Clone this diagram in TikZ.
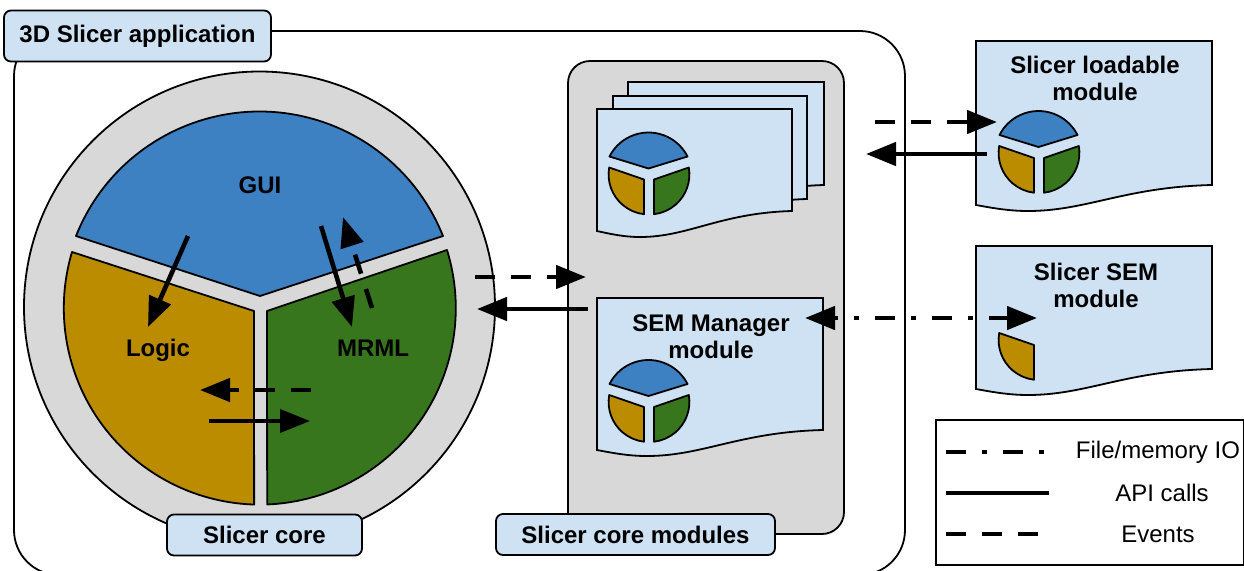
\documentclass[tikz,border=0pt]{standalone}
\usepackage{fontspec}
\setmainfont{Liberation Sans}
\usetikzlibrary{arrows.meta}
\definecolor{guiblue}{HTML}{3D81C3}
\definecolor{logicgold}{HTML}{BB8B00}
\definecolor{mrmlgreen}{HTML}{38761D}
\definecolor{coregray}{HTML}{D8D8D8}
\definecolor{pageblue}{HTML}{CFE2F3}
\begin{document}
\begin{tikzpicture}
	[x=1pt, y=1pt, scale=.5, yscale=-1,
	every node/.style = {font=\fontsize{12}{13.5}\selectfont, align=center, inner sep=0pt},
	every pic/.style = {scale=.5, yscale=-1},
	outline/.style = {draw=black, line width=.9pt},
	sector/.style = {outline, line join=round},
	tag/.style = {outline, fill=pageblue, rounded corners=3.5pt},
	boldtext/.style = {font=\fontsize{12}{13.5}\selectfont\bfseries},
	apicall/.style = {line width=2.3pt, -{Triangle[length=15pt,width=11.5pt]}},
	eventcall/.style = {apicall, dash pattern=on 10pt off 8pt},
	iocall/.style = {line width=2.3pt, dash pattern=on 10pt off 8pt on 2.5pt off 8pt},
	minilogic/.pic = {
		\draw[sector, fill=logicgold] (-39.3,-7) arc[start angle=190, end angle=96.5, radius=40] -- (-4.5,5) -- cycle;
	},
	minitriad/.pic = {
		\draw[sector, fill=guiblue] (-39,-18) arc[start angle=206.8, end angle=333.2, radius=43.7] -- (0,-6) -- cycle;
		\pic at (0,0) {minilogic};
		\draw[sector, fill=mrmlgreen] (40.3,-7) arc[start angle=-10, end angle=83.5, radius=40] -- (5.5,5) -- cycle;
	}]
	\clip (0,0) rectangle (1244,570);
	\fill[white] (0,0) rectangle (1244,570);

	\draw[outline, fill=white, rounded corners=22.5pt] (14,31) rectangle (905,575);
	\draw[outline, fill=coregray] (259.5,307) circle[radius=235.5];
	\draw[sector, fill=guiblue] (76,236) arc[start angle=201.7, end angle=338.3, radius=197.5] -- (260,296) -- cycle;
	\draw[sector, fill=logicgold] (72,252) arc[start angle=196.6, end angle=91.8, radius=196.5] -- (254,311) -- cycle;
	\draw[sector, fill=mrmlgreen] (447,250) arc[start angle=-17.2, end angle=87.7, radius=196.5] -- (267,311) -- cycle;

	\draw[outline, fill=coregray, rounded corners=11pt] (568,61) rectangle (844,534);
	\foreach \px/\ptop/\pw/\pr in {628/82/196/185, 613/96/194/199, 597/109/195/211, 597/298/226/430, 976/41/236/185, 976/246/236/369}
		\draw[outline, fill=pageblue, line join=miter] (\px,\ptop) -- ({\px+\pw},\ptop) -- ({\px+\pw},\pr)
			.. controls ({\px+.63*\pw},{\pr+2}) and ({\px+.47*\pw},{\pr+26}) .. ({\px+.22*\pw},{\pr+26})
			.. controls ({\px+.14*\pw},{\pr+26}) and ({\px+.07*\pw},{\pr+23}) .. (\px,{\pr+20}) -- cycle;
	\pic at (648.5,174.5) {minitriad};
	\pic at (648.5,402) {minitriad};
	\pic at (1038.5,153) {minitriad};
	\pic at (1038.5,340) {minilogic};

	\node[tag, boldtext, minimum width=133.5pt, minimum height=25.5pt] (app) at (137.5,36) {3D Slicer application};
	\node[tag, boldtext, minimum width=97.5pt, minimum height=20.5pt] (core) at (264.5,535) {Slicer core};
	\node[tag, boldtext, minimum width=139.5pt, minimum height=20.5pt] (coremods) at (635.5,534.5) {Slicer core modules};

	\node[boldtext] (gui) at (260,185) {GUI};
	\node[boldtext] (logic) at (158,350) {Logic};
	\node[boldtext] (mrml) at (373,348) {MRML};
	\node[boldtext] (loadable) at (1095,78.5) {Slicer loadable\\module};
	\node[boldtext] (sem) at (1096,285) {Slicer SEM\\module};
	\node[boldtext] (manager) at (711,336.5) {SEM Manager\\module};

	\coordinate (guitologicA) at (188,236);
	\coordinate (guitologicB) at (148,327);
	\coordinate (guitomrmlA) at (321,226);
	\coordinate (guitomrmlB) at (352,327);
	\coordinate (mrmltoguiA) at (372,308);
	\coordinate (mrmltoguiB) at (343,217);
	\coordinate (mrmltologicA) at (311,390);
	\coordinate (mrmltologicB) at (200,390);
	\coordinate (logictomrmlA) at (209,421);
	\coordinate (logictomrmlB) at (310,421);
	\coordinate (coretomodsA) at (475,277);
	\coordinate (coretomodsB) at (586,277);
	\coordinate (modstocoreA) at (588,309);
	\coordinate (modstocoreB) at (477,309);
	\coordinate (modstoloadA) at (875,122);
	\coordinate (modstoloadB) at (997,122);
	\coordinate (loadtomodsA) at (987,154);
	\coordinate (loadtomodsB) at (866,154);
	\coordinate (managerend) at (805,318);
	\coordinate (semend) at (1037,318);

	\draw[apicall] (guitologicA) -- (guitologicB);
	\draw[apicall] (guitomrmlA) -- (guitomrmlB);
	\draw[eventcall] (mrmltoguiA) -- (mrmltoguiB);
	\draw[eventcall] (mrmltologicA) -- (mrmltologicB);
	\draw[apicall, line width=1.9pt] (logictomrmlA) -- (logictomrmlB);
	\draw[eventcall] (coretomodsA) -- (coretomodsB);
	\draw[apicall] (modstocoreA) -- (modstocoreB);
	\draw[eventcall] (modstoloadA) -- (modstoloadB);
	\draw[apicall] (loadtomodsA) -- (loadtomodsB);
	\draw[iocall, dash phase=8pt, {Triangle[length=15pt,width=11.5pt]}-{Triangle[length=15pt,width=11.5pt]}] (managerend) -- (semend);

	\draw[outline] (936,420) rectangle (1243.5,565);
	\coordinate (ioA) at (946,452);
	\coordinate (ioB) at (1046,452);
	\coordinate (apiA) at (946,493);
	\coordinate (apiB) at (1049,493);
	\coordinate (eventA) at (946,534);
	\coordinate (eventB) at (1039,534);
	\draw[iocall] (ioA) -- (ioB);
	\draw[line width=2.3pt] (apiA) -- (apiB);
	\draw[line width=2.3pt, dash pattern=on 10pt off 8pt] (eventA) -- (eventB);
	\node (iotext) at (1158,452) {File/memory IO};
	\node (apitext) at (1162,493) {API calls};
	\node (eventtext) at (1158,534) {Events};
\end{tikzpicture}
\end{document}
